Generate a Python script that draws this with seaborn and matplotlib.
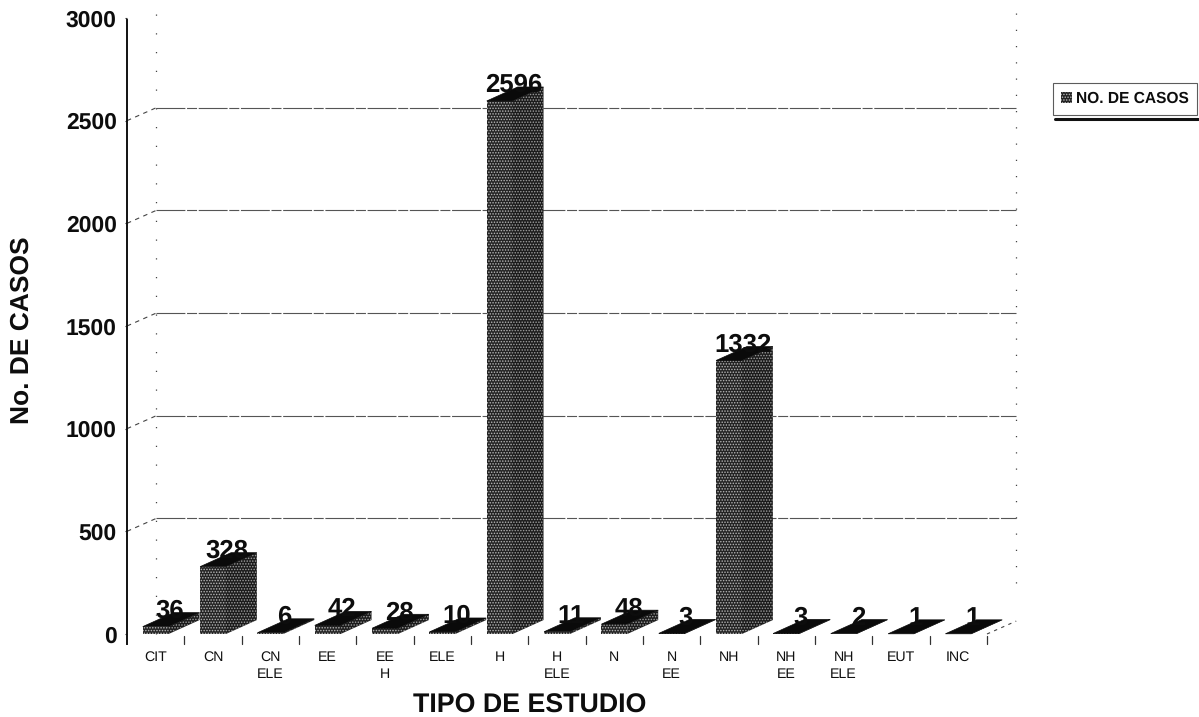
import matplotlib
matplotlib.use("Agg")
import matplotlib.pyplot as plt
import seaborn as sns
import pandas as pd
from matplotlib.patches import Polygon, Patch
from matplotlib.lines import Line2D

categories = ["CIT", "CN", "CN\nELE", "EE", "EE\nH", "ELE", "H", "H\nELE", "N",
              "N\nEE", "NH", "NH\nEE", "NH\nELE", "EUT", "INC"]
casos = [36, 328, 6, 42, 28, 10, 2596, 11, 48, 3, 1332, 3, 2, 1, 1]
value_labels = ["36", "328", "6", "42", "28", "10", "2596", "11", "48", "3", "1332", "3", "2", "1", "1"]
y_ticks = [0, 500, 1000, 1500, 2000, 2500, 3000]

W, H = 1199, 717
sns.set_theme(style="white")
plt.rcParams["font.family"] = ["Liberation Sans", "DejaVu Sans"]
plt.rcParams["hatch.linewidth"] = 0.7
plt.rcParams["text.hinting"] = "no_hinting"

fig = plt.figure(figsize=(W / 100, H / 100), dpi=100, facecolor="white")
ax = fig.add_axes([127 / W, 1 - 634 / H, 860 / W, 616 / H])

df = pd.DataFrame({"tipo": categories, "casos": casos})
BAR_W = 0.45
DX, DY = 0.54, 68      # 3-D depth in data units
BACK_DX, BACK_DY = 0.51, 63
FRONT = "#232323"
SIDE = "#1b1b1b"
SPECK = "#b8b8b8"

sns.barplot(data=df, x="tipo", y="casos", order=categories, width=BAR_W, ax=ax,
            color=FRONT, saturation=1, zorder=4)
ax.set_xlim(-0.5, 14.5)
ax.set_ylim(0, 3000)

for p in ax.patches:
    p.set_hatch("......")
    p.set_edgecolor(SPECK)
    p.set_linewidth(0)
    p.set_clip_on(False)

# depth faces, derived from each bar's value
for i, v in enumerate(casos):
    l, r = i - BAR_W / 2, i + BAR_W / 2
    side = Polygon([(r, 0), (r + DX, DY), (r + DX, v + DY), (r, v)], closed=True,
                   facecolor=SIDE, edgecolor="#a0a0a0", hatch="......", lw=0, zorder=4, clip_on=False)
    top = Polygon([(l, v), (l + DX, v + DY), (r + DX, v + DY), (r, v)], closed=True,
                  facecolor="#0a0a0a", edgecolor="#0a0a0a", lw=0.5, zorder=5, clip_on=False)
    ax.add_patch(side)
    ax.add_patch(top)
    ax.text(i + 0.25, v + 17, value_labels[i], ha="center", va="bottom",
            fontsize=18.5, fontweight="bold", color="#0d0d0d", zorder=7, clip_on=False)

# back wall: gridlines, slanted side wall and dotted verticals
x0, x1 = -0.5, 14.5
for t in y_ticks[1:-1]:
    ax.plot([x0, x0 + BACK_DX], [t, t + BACK_DY], color="#444444", lw=0.8, ls=(0, (4, 4)),
            zorder=1, clip_on=False)
    ax.plot([x0 + BACK_DX, x1 + BACK_DX], [t + BACK_DY, t + BACK_DY], color="#555555",
            lw=0.8, ls=(0, (26, 1.5, 9, 1.5)), zorder=1, clip_on=False)
ax.plot([x0 + BACK_DX] * 2, [0, 3080], color="#444444", lw=0.9, ls=(0, (1, 14)), zorder=1, clip_on=False)
ax.plot([x1 + BACK_DX] * 2, [250, 3080], color="#444444", lw=0.9, ls=(0, (1, 12)), zorder=1, clip_on=False)
ax.plot([x1, x1 + BACK_DX], [0, BACK_DY], color="#444444", lw=0.8, ls=(0, (3, 4)), zorder=1, clip_on=False)

# spines and ticks
for s in ["top", "right", "bottom"]:
    ax.spines[s].set_visible(False)
ax.spines["left"].set_color("#111111")
ax.spines["left"].set_linewidth(1.4)
ax.spines["left"].set_bounds(-50, 2990)

ax.set_yticks(y_ticks)
ax.set_yticklabels([str(t) for t in y_ticks], fontsize=16.5, fontweight="bold", color="#0d0d0d")
ax.tick_params(axis="y", left=True, length=1.5, width=0.8, color="#333333", direction="out", pad=6)
ax.set_xticks(range(len(categories)))
ax.set_xticklabels(categories, fontsize=10.2, color="#111111", linespacing=1.4, va="top")
ax.tick_params(axis="x", length=0, pad=12)

for i in range(1, len(categories) + 1):
    ax.plot([i - 0.5, i - 0.5], [-48, -8], color="#333333", lw=0.9, clip_on=False, zorder=3)

ax.set_xlabel("")
ax.set_ylabel("")
fig.text(530 / W, 1 - 706 / H, "TIPO DE ESTUDIO", fontsize=19.3, fontweight="bold",
         ha="center", va="center", color="#0d0d0d")
fig.text(22 / W, 1 - 330 / H, "No. DE CASOS", fontsize=19, fontweight="bold", rotation=90,
         ha="center", va="center", color="#0d0d0d")

# legend
handle = Patch(facecolor=FRONT, edgecolor=SPECK, hatch="......", lw=0)
leg = fig.legend([handle], ["NO. DE CASOS"], loc="center",
                 bbox_to_anchor=(1125 / W, 1 - 99 / H),
                 prop={"weight": "bold", "size": 11.2}, frameon=True, fancybox=False,
                 edgecolor="#333333", handlelength=0.7, handleheight=0.7, handletextpad=0.25,
                 borderpad=0.55, borderaxespad=0)
leg.get_frame().set_linewidth(0.8)
leg.get_texts()[0].set_color("#0d0d0d")
fig.add_artist(Line2D([1055 / W, 1198 / W], [1 - 119 / H, 1 - 119 / H], color="#111111", lw=2.2))

fig.savefig("out.png", dpi=100, facecolor="white")
